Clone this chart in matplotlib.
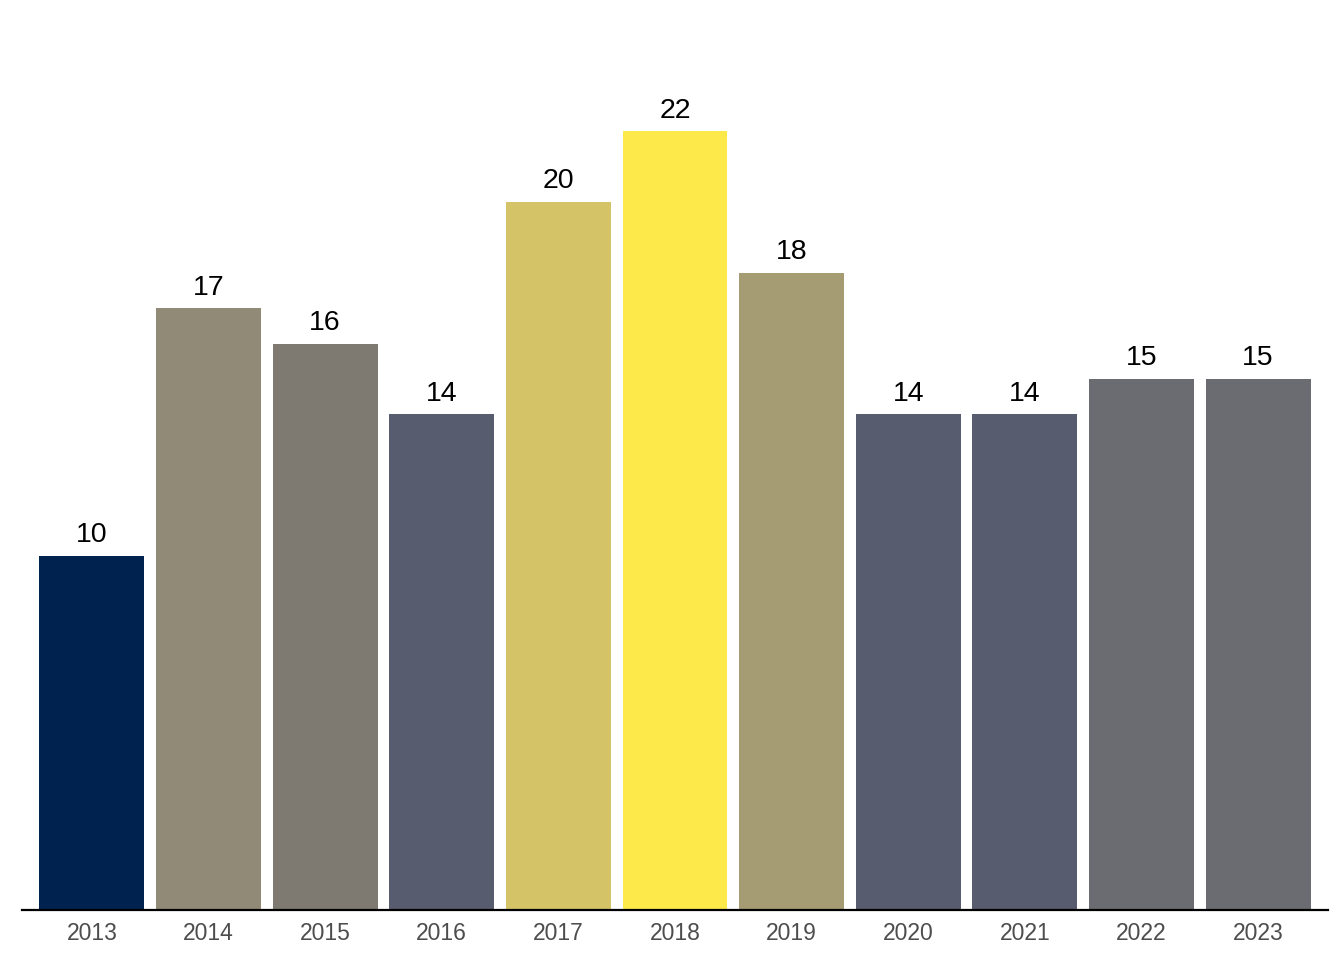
import matplotlib.pyplot as plt

plt.rcParams['font.family'] = ['Liberation Sans', 'DejaVu Sans']

# data
years = ['2013', '2014', '2015', '2016', '2017', '2018',
         '2019', '2020', '2021', '2022', '2023']
counts = [10, 17, 16, 14, 20, 22, 18, 14, 14, 15, 15]
# fill colour per value (cividis-like)
value_colors = {10: '#00224E', 14: '#575C6E', 15: '#6B6C71', 16: '#7E7A72',
                17: '#918A76', 18: '#A69C74', 20: '#D5C368', 22: '#FEE94A'}

fig = plt.figure(figsize=(13.44, 9.6), dpi=100)
ax = fig.add_axes([22 / 1344, 50 / 960, 1306 / 1344, 885 / 960])

x = range(len(years))
bars = ax.bar(x, counts, width=0.9, color=[value_colors[v] for v in counts])

for xi, v in zip(x, counts):
    ax.annotate(str(v), (xi, v), xytext=(0, 5.5), textcoords='offset points',
                ha='center', va='bottom', fontsize=20.5, color='black')

ax.set_xlim(-0.6, len(years) - 0.4)
ax.set_ylim(0, 25)
ax.set_xticks(list(x))
ax.set_xticklabels(years, fontsize=16.5, color='#4D4D4D')
ax.tick_params(axis='x', length=0, pad=9)
ax.set_yticks([])
for side in ['top', 'right', 'left']:
    ax.spines[side].set_visible(False)
ax.spines['bottom'].set_linewidth(1.6)
ax.spines['bottom'].set_color('black')

fig.savefig('out.png', dpi=100)
